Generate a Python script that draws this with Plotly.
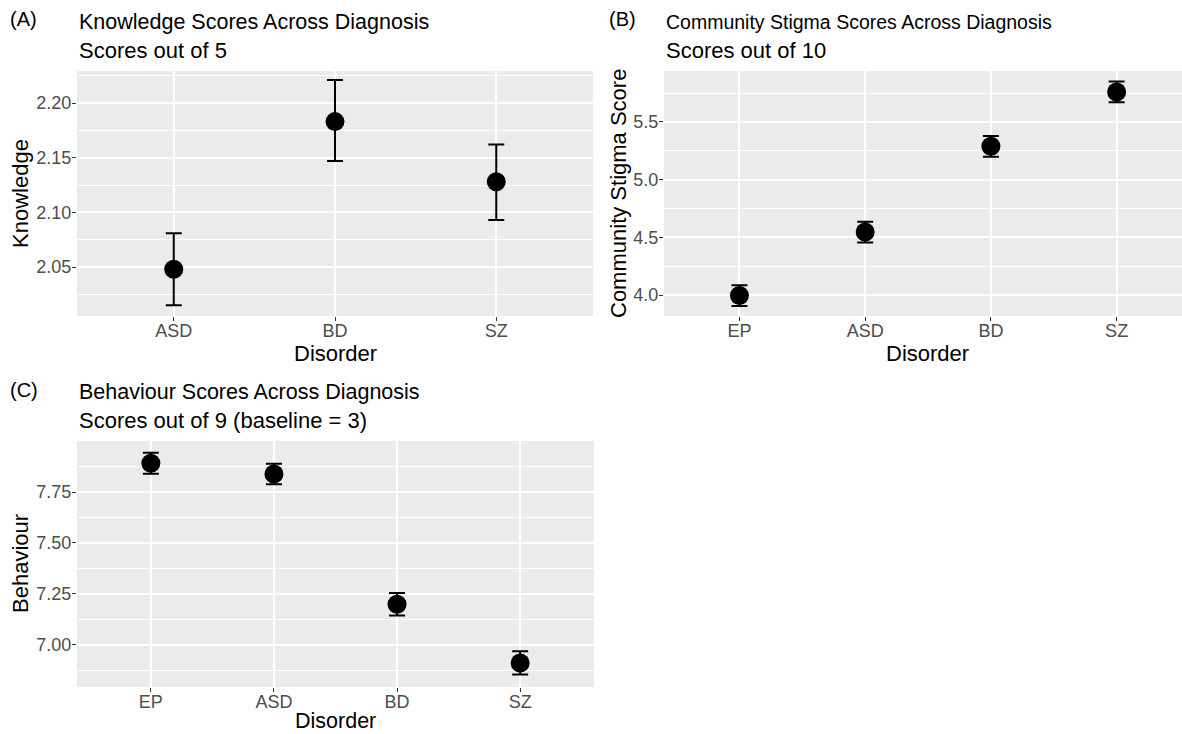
import plotly.graph_objects as go

W, H = 1182, 734

# ---- data ----
a_cats = ["ASD", "BD", "SZ"]
a_mean = [2.048, 2.183, 2.128]
a_low = [2.015, 2.147, 2.093]
a_high = [2.081, 2.221, 2.162]

b_cats = ["EP", "ASD", "BD", "SZ"]
b_mean = [3.995, 4.546, 5.289, 5.760]
b_low = [3.905, 4.456, 5.199, 5.670]
b_high = [4.085, 4.636, 5.379, 5.850]

c_cats = ["EP", "ASD", "BD", "SZ"]
c_mean = [7.891, 7.838, 7.200, 6.912]
c_low = [7.840, 7.788, 7.145, 6.855]
c_high = [7.942, 7.888, 7.255, 6.969]

a_ticks = [2.05, 2.10, 2.15, 2.20]
b_ticks = [4.0, 4.5, 5.0, 5.5]
c_ticks = [7.00, 7.25, 7.50, 7.75]

FONT = "Liberation Sans, Arial, sans-serif"


def px_x(p):
    return p / W


def px_y(p):
    return 1 - p / H


fig = go.Figure()


def add_panel(cats, mean, low, high, xa, ya):
    fig.add_trace(go.Scatter(
        x=cats, y=mean, mode="markers",
        marker=dict(color="black", size=19),
        error_y=dict(type="data", symmetric=False,
                     array=[h - m for h, m in zip(high, mean)],
                     arrayminus=[m - l for m, l in zip(mean, low)],
                     color="black", thickness=2, width=8),
        xaxis=xa, yaxis=ya, showlegend=False, hoverinfo="x+y"))


add_panel(a_cats, a_mean, a_low, a_high, "x", "y")
add_panel(b_cats, b_mean, b_low, b_high, "x2", "y2")
add_panel(c_cats, c_mean, c_low, c_high, "x3", "y3")

xcommon = dict(type="category", showgrid=True, gridcolor="white", gridwidth=1.6,
               ticks="outside", ticklen=4, tickcolor="#333333", tickwidth=1,
               ticklabelstandoff=-6,
               tickfont=dict(family=FONT, size=18, color="#4D4D4D"),
               showline=False, zeroline=False, fixedrange=True)


def ycommon(ticks, fmt, rng):
    step = ticks[1] - ticks[0]
    return dict(range=rng, tickmode="array", tickvals=ticks, tickformat=fmt,
                showgrid=True, gridcolor="white", gridwidth=1.6,
                minor=dict(showgrid=True, gridcolor="white", gridwidth=0.8,
                           tick0=ticks[0] - step / 2, dtick=step, ticks=""),
                ticks="outside", ticklen=4, tickcolor="#333333", tickwidth=1,
                ticklabelstandoff=-3,
                tickfont=dict(family=FONT, size=18, color="#4D4D4D"),
                showline=False, zeroline=False, fixedrange=True)


fig.update_layout(
    width=W, height=H,
    margin=dict(l=0, r=0, t=0, b=0),
    paper_bgcolor="white",
    font=dict(family=FONT),
    xaxis=dict(domain=[px_x(77), px_x(593)], range=[-0.6, 2.6], anchor="y", **xcommon),
    yaxis=dict(domain=[px_y(316), px_y(71)], anchor="x",
               **ycommon(a_ticks, ".2f", [2.0052, 2.2293])),
    xaxis2=dict(domain=[px_x(664), 1.0], range=[-0.6, 3.52], anchor="y2", **xcommon),
    yaxis2=dict(domain=[px_y(316), px_y(71)], anchor="x2",
                **ycommon(b_ticks, ".1f", [3.818, 5.942])),
    xaxis3=dict(domain=[px_x(77), px_x(594)], range=[-0.6, 3.6], anchor="y3", **xcommon),
    yaxis3=dict(domain=[px_y(687), px_y(441)], anchor="x3",
                **ycommon(c_ticks, ".2f", [6.794, 8.0])),
)

# backgrounds for plot areas
for x0, x1, y0, y1 in [(77, 593, 71, 316), (664, 1182, 71, 316), (77, 594, 441, 687)]:
    fig.add_shape(type="rect", xref="paper", yref="paper",
                  x0=px_x(x0), x1=px_x(x1), y0=px_y(y1), y1=px_y(y0),
                  fillcolor="#EBEBEB", line=dict(width=0), layer="below")


def ann(text, x, y, size, xanchor="left", angle=0, color="black"):
    fig.add_annotation(text=text, x=px_x(x), y=px_y(y), xref="paper", yref="paper",
                       xanchor=xanchor, yanchor="middle", showarrow=False,
                       textangle=angle, font=dict(family=FONT, size=size, color=color))


# panel letters
ann("(A)", 8, 19, 20)
ann("(B)", 607, 19, 20)
ann("(C)", 8, 390, 20)

# titles
ann("Knowledge Scores Across Diagnosis", 77, 22, 21.5)
ann("Scores out of 5", 77, 50, 22)
ann("Community Stigma Scores Across Diagnosis", 664, 22, 19.5)
ann("Scores out of 10", 664, 50, 22)
ann("Behaviour Scores Across Diagnosis", 77, 392, 21.5)
ann("Scores out of 9 (baseline = 3)", 77, 420, 22)

# axis titles
ann("Disorder", 335, 353, 22, xanchor="center")
ann("Disorder", 928, 353, 22, xanchor="center")
ann("Disorder", 335, 721, 21.5, xanchor="center")
ann("Knowledge", 20, 194, 22, xanchor="center", angle=-90)
ann("Community Stigma Score", 618, 194, 22, xanchor="center", angle=-90)
ann("Behaviour", 20, 564, 22, xanchor="center", angle=-90)

fig.write_html(
    "out.html",
    config={"displayModeBar": False},
    post_script="document.body.style.margin='0';document.body.style.overflow='hidden';",
)
